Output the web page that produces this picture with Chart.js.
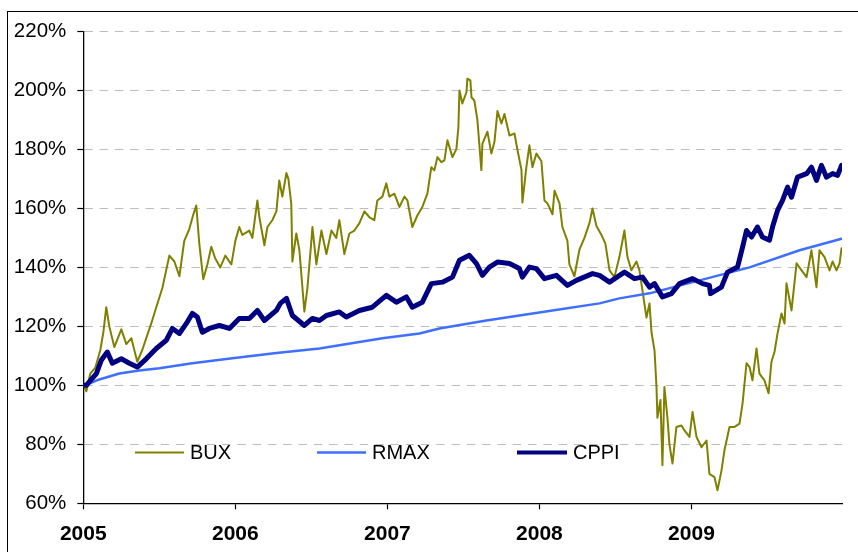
<!DOCTYPE html>
<html>
<head>
<meta charset="utf-8">
<script src="https://cdn.jsdelivr.net/npm/chart.js@4.4.1/dist/chart.umd.min.js"></script>
<style>
  html, body { margin: 0; padding: 0; background: #fff; }
  #wrap { position: relative; width: 858px; height: 552px; overflow: hidden; }
  #frame { position: absolute; left: 7px; top: 11px; width: 900px; height: 600px;
           border-top: 1.5px solid #000; border-left: 1.5px solid #000; }
  #wrap canvas { position: absolute; left: 0; top: 0; }
</style>
</head>
<body>
<div id="wrap">
  <div id="frame"></div>
  <canvas id="chart" width="858" height="552"></canvas>
</div>
<script>
/* -----------------------------
   Data (decimal year, % of start)
------------------------------ */
const yearTicks = [2005, 2006, 2007, 2008, 2009];
const yTicks = [60, 80, 100, 120, 140, 160, 180, 200, 220];

const bux = [
  [2005.000, 100], [2005.020, 98], [2005.046, 104], [2005.079, 106], [2005.112, 112],
  [2005.132, 118], [2005.151, 126.5], [2005.171, 120], [2005.204, 113], [2005.250, 119],
  [2005.283, 114], [2005.316, 116], [2005.355, 108], [2005.388, 112], [2005.414, 116],
  [2005.447, 121], [2005.480, 126.5], [2005.520, 133], [2005.566, 144], [2005.599, 142],
  [2005.632, 137], [2005.664, 149], [2005.697, 153], [2005.724, 158], [2005.743, 161],
  [2005.763, 148], [2005.789, 136], [2005.816, 141], [2005.842, 147], [2005.868, 143],
  [2005.901, 140], [2005.934, 144], [2005.974, 141], [2006.000, 149], [2006.026, 153.7],
  [2006.046, 151], [2006.092, 152.5], [2006.112, 150], [2006.145, 162.7], [2006.158, 157],
  [2006.191, 147.5], [2006.211, 153.7], [2006.243, 156], [2006.270, 159], [2006.289, 169.5],
  [2006.309, 164], [2006.336, 172], [2006.349, 170], [2006.368, 161.5], [2006.375, 142],
  [2006.401, 151.5], [2006.421, 146], [2006.454, 125], [2006.474, 133], [2006.500, 149],
  [2006.507, 153.7], [2006.533, 141], [2006.566, 152.5], [2006.599, 144.5], [2006.632, 152.5],
  [2006.664, 150], [2006.684, 156], [2006.717, 144.5], [2006.750, 151.5], [2006.783, 152.5],
  [2006.816, 155], [2006.849, 159], [2006.882, 157], [2006.914, 156], [2006.934, 162.7],
  [2006.967, 164], [2006.993, 168.5], [2007.013, 164], [2007.046, 165], [2007.079, 160.5],
  [2007.112, 164], [2007.132, 162.7], [2007.164, 153.7], [2007.197, 157.6], [2007.230, 160.5],
  [2007.263, 165], [2007.289, 174], [2007.309, 172.9], [2007.329, 177.4], [2007.355, 175.7],
  [2007.375, 176.3], [2007.395, 183.1], [2007.428, 177.4], [2007.454, 180.2], [2007.467, 187.6],
  [2007.474, 200], [2007.493, 195.6], [2007.520, 199.4], [2007.526, 204], [2007.546, 203.4],
  [2007.553, 197.7], [2007.572, 196.6], [2007.592, 190], [2007.618, 173], [2007.625, 182],
  [2007.658, 186], [2007.684, 178.6], [2007.704, 182.5], [2007.724, 193], [2007.750, 188.8],
  [2007.770, 192], [2007.803, 184.7], [2007.836, 185.4], [2007.855, 180], [2007.882, 173],
  [2007.888, 162], [2007.914, 174], [2007.934, 181.4], [2007.954, 174], [2007.980, 178.6],
  [2008.013, 176], [2008.033, 162.7], [2008.053, 161.7], [2008.086, 158], [2008.099, 166],
  [2008.132, 161.7], [2008.151, 153.7], [2008.184, 149], [2008.197, 141], [2008.230, 137],
  [2008.263, 146], [2008.296, 150], [2008.329, 155], [2008.349, 160], [2008.375, 154],
  [2008.408, 151], [2008.434, 148], [2008.461, 139], [2008.493, 136.7], [2008.526, 143.5],
  [2008.559, 152.5], [2008.579, 143.5], [2008.605, 139], [2008.638, 142], [2008.658, 139],
  [2008.678, 132], [2008.704, 123], [2008.724, 127.8], [2008.737, 118], [2008.757, 111.8],
  [2008.770, 99.4], [2008.776, 89], [2008.796, 95], [2008.809, 72.9], [2008.822, 99.4],
  [2008.842, 89], [2008.855, 80], [2008.875, 73.5], [2008.901, 85.9], [2008.934, 86.4],
  [2008.954, 84.7], [2008.987, 82.5], [2009.007, 91], [2009.033, 82.5], [2009.066, 79],
  [2009.099, 81.3], [2009.118, 70], [2009.151, 68.9], [2009.171, 64.4], [2009.197, 71],
  [2009.217, 78], [2009.250, 85.9], [2009.283, 85.9], [2009.316, 87], [2009.336, 93.9],
  [2009.362, 107.5], [2009.382, 106.2], [2009.401, 101.7], [2009.428, 112.5], [2009.447, 104],
  [2009.480, 101.7], [2009.507, 97.3], [2009.526, 108], [2009.546, 111.3], [2009.566, 117.6],
  [2009.592, 124.4], [2009.612, 121], [2009.625, 134.6], [2009.658, 125.4], [2009.691, 141.4],
  [2009.724, 139], [2009.757, 136.7], [2009.789, 145.8], [2009.822, 133.3], [2009.842, 145.8],
  [2009.875, 143.5], [2009.908, 139], [2009.928, 142], [2009.954, 139], [2009.974, 141.4],
  [2009.987, 146.5]
];

const rmax = [
  [2005.000, 100], [2005.039, 100.6], [2005.105, 102], [2005.237, 104], [2005.368, 105],
  [2005.500, 105.8], [2005.717, 107.5], [2005.980, 109.2], [2006.270, 111], [2006.553, 112.5],
  [2006.967, 116], [2007.211, 117.6], [2007.342, 119.3], [2007.651, 122], [2008.086, 125.4],
  [2008.395, 127.8], [2008.526, 129.5], [2008.724, 131.2], [2009.053, 135.6], [2009.382, 140],
  [2009.711, 145.8], [2009.987, 149.7]
];

const cppi = [
  [2005.000, 100], [2005.020, 100], [2005.053, 102], [2005.086, 104], [2005.118, 108.5],
  [2005.158, 111.3], [2005.191, 107.5], [2005.250, 109], [2005.303, 107.5], [2005.355, 106.2],
  [2005.414, 109], [2005.480, 112.5], [2005.546, 115.3], [2005.586, 119.3], [2005.632, 117.6],
  [2005.678, 121], [2005.717, 124.4], [2005.750, 123.2], [2005.783, 118], [2005.829, 119.3],
  [2005.895, 120.3], [2005.961, 119.3], [2006.026, 122.7], [2006.092, 122.7], [2006.145, 125.4],
  [2006.191, 122], [2006.270, 125.4], [2006.296, 127.8], [2006.336, 129.5], [2006.375, 123.7],
  [2006.454, 120.3], [2006.507, 122.7], [2006.553, 122], [2006.599, 123.7], [2006.684, 124.9],
  [2006.730, 123.2], [2006.816, 125.4], [2006.901, 126.5], [2006.993, 130.5], [2007.059, 128.2],
  [2007.125, 130], [2007.164, 126.5], [2007.230, 128.2], [2007.289, 134.5], [2007.362, 135],
  [2007.428, 136.7], [2007.474, 142.4], [2007.539, 144.1], [2007.586, 141.3], [2007.625, 137.3],
  [2007.671, 140.1], [2007.724, 141.8], [2007.803, 141.3], [2007.868, 139.6], [2007.888, 136.7],
  [2007.934, 140.1], [2007.980, 139.6], [2008.033, 136.2], [2008.112, 137.3], [2008.184, 133.9],
  [2008.243, 135.6], [2008.349, 137.9], [2008.395, 137.3], [2008.461, 135], [2008.559, 138.4],
  [2008.625, 136.2], [2008.678, 136.7], [2008.724, 133.3], [2008.757, 134.5], [2008.809, 130],
  [2008.868, 131.1], [2008.921, 134.5], [2009.007, 136.2], [2009.072, 134.5], [2009.118, 133.9],
  [2009.125, 131.1], [2009.197, 133.3], [2009.237, 138.4], [2009.303, 140.1], [2009.336, 146.9],
  [2009.362, 152.5], [2009.395, 150.3], [2009.434, 153.7], [2009.467, 150.3], [2009.513, 149.2],
  [2009.533, 153.7], [2009.566, 159.3], [2009.599, 162.7], [2009.632, 167.2], [2009.658, 163.8],
  [2009.697, 170.6], [2009.757, 171.8], [2009.789, 174], [2009.822, 169.5], [2009.855, 174.6],
  [2009.888, 170.6], [2009.928, 171.8], [2009.961, 171.2], [2009.987, 174.6]
];

const seriesNames = ['BUX', 'RMAX', 'CPPI'];
const seriesColors = ['#808000', '#3f6fff', '#000080'];

const FONT = "'Liberation Sans', Arial, sans-serif";

/* -----------------------------
   Legend drawn inside plot
------------------------------ */
const insideLegend = {
  id: 'insideLegend',
  afterDraw(chart) {
    const ctx = chart.ctx;
    const items = [
      { x: 135, w: 49, lw: 2 },
      { x: 317, w: 49, lw: 2.5 },
      { x: 517, w: 50, lw: 4 }
    ];
    const y = 452.5;
    ctx.save();
    ctx.font = '20px ' + FONT;
    ctx.textBaseline = 'middle';
    ctx.fillStyle = '#000';
    items.forEach((it, i) => {
      ctx.strokeStyle = seriesColors[i];
      ctx.lineWidth = it.lw;
      ctx.beginPath();
      ctx.moveTo(it.x, y);
      ctx.lineTo(it.x + it.w, y);
      ctx.stroke();
      ctx.fillText(seriesNames[i], it.x + it.w + 6, y + 1);
    });
    ctx.restore();
  }
};

function toXY(arr) {
  return arr.map(p => ({ x: p[0], y: p[1] }));
}

const ctx = document.getElementById('chart').getContext('2d');
const chart = new Chart(ctx, {
  type: 'line',
  data: {
    datasets: [
      { label: 'BUX', data: toXY(bux), borderColor: seriesColors[0], borderWidth: 2, order: 3 },
      { label: 'RMAX', data: toXY(rmax), borderColor: seriesColors[1], borderWidth: 2.5, order: 2 },
      { label: 'CPPI', data: toXY(cppi), borderColor: seriesColors[2], borderWidth: 5, order: 1 }
    ]
  },
  options: {
    responsive: false,
    animation: false,
    devicePixelRatio: 1,
    layout: { padding: { left: 0, top: 31.5, right: 16, bottom: 0 } },
    elements: {
      point: { radius: 0 },
      line: { tension: 0, fill: false, borderJoinStyle: 'round', borderCapStyle: 'round' }
    },
    plugins: {
      legend: { display: false },
      tooltip: { enabled: false }
    },
    scales: {
      x: {
        type: 'linear',
        min: 2005,
        max: 2009.99,
        afterFit: s => { s.height = 48.7; },
        afterBuildTicks: s => { s.ticks = yearTicks.map(v => ({ value: v })); },
        grid: {
          drawOnChartArea: false,
          drawTicks: true,
          tickLength: 6,
          tickColor: '#000',
          tickWidth: 1.2
        },
        border: { display: true, color: '#000', width: 1.3 },
        ticks: {
          padding: 12,
          color: '#000',
          maxRotation: 0,
          autoSkip: false,
          font: { family: FONT, size: 21, weight: 'bold' },
          callback: v => String(v)
        }
      },
      y: {
        min: 60,
        max: 220,
        afterFit: s => { s.width = 83.3; },
        afterBuildTicks: s => { s.ticks = yTicks.map(v => ({ value: v })); },
        grid: {
          color: '#bdbdbd',
          lineWidth: 1,
          drawTicks: true,
          tickLength: 6,
          tickColor: '#000',
          tickWidth: 1.2,
          tickBorderDash: []
        },
        border: { display: true, color: '#000', width: 1.3, dash: [8.5, 6.8] },
        ticks: {
          padding: 11,
          color: '#000',
          font: { family: FONT, size: 20.5 },
          callback: v => v + '%'
        }
      }
    }
  },
  plugins: [insideLegend]
});
</script>
</body>
</html>
